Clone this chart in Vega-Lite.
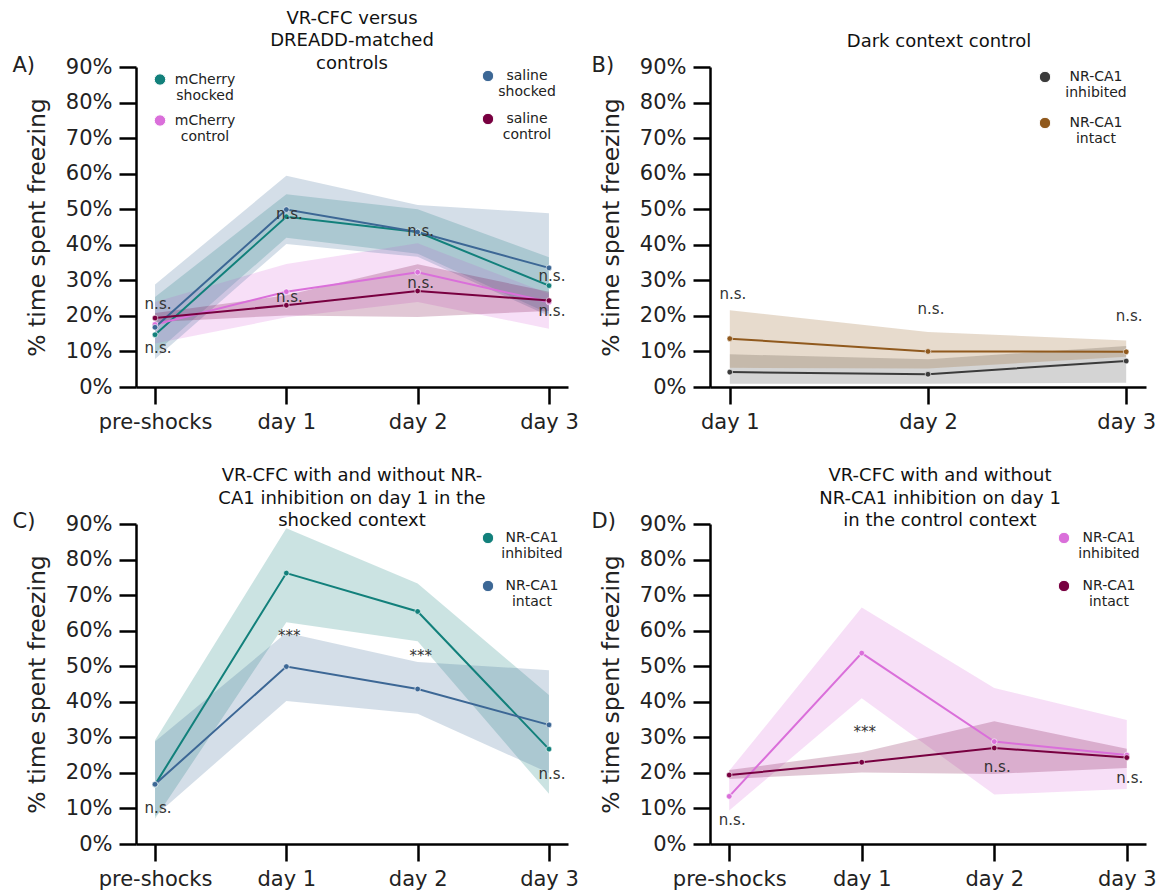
{
  "$schema": "https://vega.github.io/schema/vega-lite/v6.json",
  "background": "white",
  "padding": {"left": 12, "top": 9, "right": 5, "bottom": 5},
  "columns": 2,
  "spacing": {"row": 35, "column": 12},
  "resolve": {"scale": {"color": "independent", "fill": "independent", "stroke": "independent"}, "legend": {"color": "independent"}},
  "datasets": {
    "A": [
      {"t": "pre-shocks", "g": "mCherry shocked", "v": 14.7, "lo": 9.5, "hi": 25.3},
      {"t": "day 1", "g": "mCherry shocked", "v": 47.9, "lo": 42.0, "hi": 54.2},
      {"t": "day 2", "g": "mCherry shocked", "v": 43.6, "lo": 37.5, "hi": 50.0},
      {"t": "day 3", "g": "mCherry shocked", "v": 28.5, "lo": 20.6, "hi": 36.5},
      {"t": "pre-shocks", "g": "mCherry control", "v": 17.6, "lo": 12.2, "hi": 23.9},
      {"t": "day 1", "g": "mCherry control", "v": 26.8, "lo": 19.6, "hi": 34.6},
      {"t": "day 2", "g": "mCherry control", "v": 32.3, "lo": 23.9, "hi": 40.4},
      {"t": "day 3", "g": "mCherry control", "v": 23.9, "lo": 16.4, "hi": 26.2},
      {"t": "pre-shocks", "g": "saline shocked", "v": 16.8, "lo": 7.9, "hi": 28.8},
      {"t": "day 1", "g": "saline shocked", "v": 49.9, "lo": 40.2, "hi": 59.4},
      {"t": "day 2", "g": "saline shocked", "v": 43.6, "lo": 36.6, "hi": 51.2},
      {"t": "day 3", "g": "saline shocked", "v": 33.5, "lo": 20.0, "hi": 48.9},
      {"t": "pre-shocks", "g": "saline control", "v": 19.4, "lo": 18.3, "hi": 20.8},
      {"t": "day 1", "g": "saline control", "v": 23.0, "lo": 20.1, "hi": 25.8},
      {"t": "day 2", "g": "saline control", "v": 27.0, "lo": 19.7, "hi": 34.5},
      {"t": "day 3", "g": "saline control", "v": 24.3, "lo": 21.4, "hi": 26.8}
    ],
    "annA": [
      {"t": "pre-shocks", "v": 23.4, "label": "n.s."},
      {"t": "pre-shocks", "v": 11.1, "label": "n.s."},
      {"t": "day 1", "v": 48.6, "label": "n.s."},
      {"t": "day 1", "v": 25.4, "label": "n.s."},
      {"t": "day 2", "v": 43.8, "label": "n.s."},
      {"t": "day 2", "v": 29.2, "label": "n.s."},
      {"t": "day 3", "v": 31.3, "label": "n.s."},
      {"t": "day 3", "v": 21.3, "label": "n.s."}
    ],
    "B": [
      {"t": "day 1", "g": "NR-CA1 inhibited", "v": 4.2, "lo": 0.9, "hi": 9.2},
      {"t": "day 2", "g": "NR-CA1 inhibited", "v": 3.6, "lo": 0.9, "hi": 7.8},
      {"t": "day 3", "g": "NR-CA1 inhibited", "v": 7.3, "lo": 1.2, "hi": 11.5},
      {"t": "day 1", "g": "NR-CA1 intact", "v": 13.6, "lo": 5.4, "hi": 21.6},
      {"t": "day 2", "g": "NR-CA1 intact", "v": 10.0, "lo": 5.2, "hi": 15.5},
      {"t": "day 3", "g": "NR-CA1 intact", "v": 9.9, "lo": 8.5, "hi": 13.1}
    ],
    "annB": [
      {"t": "day 1", "v": 26.1, "label": "n.s."},
      {"t": "day 2", "v": 21.8, "label": "n.s."},
      {"t": "day 3", "v": 20.0, "label": "n.s."}
    ],
    "C": [
      {"t": "pre-shocks", "g": "NR-CA1 inhibited", "v": 16.7, "lo": 7.1, "hi": 29.2},
      {"t": "day 1", "g": "NR-CA1 inhibited", "v": 76.2, "lo": 62.4, "hi": 88.8},
      {"t": "day 2", "g": "NR-CA1 inhibited", "v": 65.4, "lo": 57.0, "hi": 73.3},
      {"t": "day 3", "g": "NR-CA1 inhibited", "v": 26.7, "lo": 14.1, "hi": 41.9},
      {"t": "pre-shocks", "g": "NR-CA1 intact", "v": 16.8, "lo": 7.9, "hi": 28.8},
      {"t": "day 1", "g": "NR-CA1 intact", "v": 49.9, "lo": 40.2, "hi": 59.4},
      {"t": "day 2", "g": "NR-CA1 intact", "v": 43.6, "lo": 36.6, "hi": 51.2},
      {"t": "day 3", "g": "NR-CA1 intact", "v": 33.5, "lo": 20.0, "hi": 48.9}
    ],
    "annC": [
      {"t": "pre-shocks", "v": 10.1, "label": "n.s."},
      {"t": "day 1", "v": 58.5, "label": "***"},
      {"t": "day 2", "v": 53.0, "label": "***"},
      {"t": "day 3", "v": 19.8, "label": "n.s."}
    ],
    "D": [
      {"t": "pre-shocks", "g": "NR-CA1 inhibited", "v": 13.4, "lo": 9.4, "hi": 20.6},
      {"t": "day 1", "g": "NR-CA1 inhibited", "v": 53.7, "lo": 41.0, "hi": 66.5},
      {"t": "day 2", "g": "NR-CA1 inhibited", "v": 28.8, "lo": 13.9, "hi": 43.9},
      {"t": "day 3", "g": "NR-CA1 inhibited", "v": 25.0, "lo": 15.5, "hi": 34.9},
      {"t": "pre-shocks", "g": "NR-CA1 intact", "v": 19.4, "lo": 18.3, "hi": 20.8},
      {"t": "day 1", "g": "NR-CA1 intact", "v": 23.0, "lo": 20.1, "hi": 25.8},
      {"t": "day 2", "g": "NR-CA1 intact", "v": 27.0, "lo": 19.7, "hi": 34.5},
      {"t": "day 3", "g": "NR-CA1 intact", "v": 24.3, "lo": 21.4, "hi": 26.8}
    ],
    "annD": [
      {"t": "pre-shocks", "v": 6.7, "label": "n.s."},
      {"t": "day 1", "v": 31.5, "label": "***"},
      {"t": "day 2", "v": 21.6, "label": "n.s."},
      {"t": "day 3", "v": 18.5, "label": "n.s."}
    ]
  },
  "concat": [
    {
      "width": 432, "height": 320,
      "title": {"text": ["VR-CFC versus", "DREADD-matched", "controls"], "offset": -19},
      "data": {"name": "A"},
      "layer": [
        {
          "mark": {"type": "area", "fillOpacity": 0.22, "strokeWidth": 0},
          "encoding": {
            "x": {"field": "t", "type": "ordinal", "scale": {"type": "point", "domain": ["pre-shocks", "day 1", "day 2", "day 3"], "padding": 0.145}, "axis": {"title": null, "labelAngle": 0}},
            "y": {"field": "lo", "type": "quantitative", "scale": {"domain": [0, 90], "nice": false}, "axis": {"values": [0, 10, 20, 30, 40, 50, 60, 70, 80, 90], "labelExpr": "datum.value + '%'", "title": "% time spent freezing"}},
            "y2": {"field": "hi"},
            "fill": {"field": "g", "type": "nominal", "scale": {"domain": ["mCherry shocked", "mCherry control", "saline shocked", "saline control"], "range": ["#12807b", "#da6fda", "#3c6795", "#780040"]}, "legend": null}
          }
        },
        {
          "mark": {"type": "line", "strokeWidth": 2},
          "encoding": {
            "x": {"field": "t", "type": "ordinal", "scale": {"type": "point", "domain": ["pre-shocks", "day 1", "day 2", "day 3"], "padding": 0.145}, "axis": null},
            "y": {"field": "v", "type": "quantitative", "scale": {"domain": [0, 90], "nice": false}, "axis": {"values": [0, 10, 20, 30, 40, 50, 60, 70, 80, 90], "labelExpr": "datum.value + '%'", "title": "% time spent freezing"}},
            "stroke": {"field": "g", "type": "nominal", "scale": {"domain": ["mCherry shocked", "mCherry control", "saline shocked", "saline control"], "range": ["#12807b", "#da6fda", "#3c6795", "#780040"]}, "legend": null}
          }
        },
        {
          "transform": [{"filter": {"field": "g", "oneOf": ["mCherry shocked", "mCherry control"]}}],
          "mark": {"type": "point", "filled": true, "size": 32, "opacity": 1, "stroke": "white", "strokeWidth": 0.6},
          "encoding": {
            "x": {"field": "t", "type": "ordinal", "scale": {"type": "point", "domain": ["pre-shocks", "day 1", "day 2", "day 3"], "padding": 0.145}, "axis": null},
            "y": {"field": "v", "type": "quantitative", "scale": {"domain": [0, 90], "nice": false}, "axis": {"values": [0, 10, 20, 30, 40, 50, 60, 70, 80, 90], "labelExpr": "datum.value + '%'", "title": "% time spent freezing"}},
            "color": {"field": "g", "type": "nominal", "scale": {"domain": ["mCherry shocked", "mCherry control"], "range": ["#12807b", "#da6fda"]},
              "legend": {"title": null, "orient": "none", "legendX": 17, "legendY": 5.5, "labelExpr": "split(datum.label, ' ')", "labelAlign": "center", "labelOffset": 38, "rowPadding": 10, "symbolStrokeColor": "white"}}
          }
        },
        {
          "transform": [{"filter": {"field": "g", "oneOf": ["saline shocked", "saline control"]}}],
          "mark": {"type": "point", "filled": true, "size": 32, "opacity": 1, "stroke": "white", "strokeWidth": 0.6},
          "encoding": {
            "x": {"field": "t", "type": "ordinal", "scale": {"type": "point", "domain": ["pre-shocks", "day 1", "day 2", "day 3"], "padding": 0.145}, "axis": null},
            "y": {"field": "v", "type": "quantitative", "scale": {"domain": [0, 90], "nice": false}, "axis": {"values": [0, 10, 20, 30, 40, 50, 60, 70, 80, 90], "labelExpr": "datum.value + '%'", "title": "% time spent freezing"}},
            "color": {"field": "g", "type": "nominal", "scale": {"domain": ["saline shocked", "saline control"], "range": ["#3c6795", "#780040"]},
              "legend": {"title": null, "orient": "none", "legendX": 345, "legendY": 2, "labelExpr": "split(datum.label, ' ')", "labelAlign": "center", "labelOffset": 32, "rowPadding": 12, "symbolStrokeColor": "white"}}
          }
        },
        {
          "data": {"name": "annA"},
          "mark": {"type": "text", "font": "DejaVu Sans", "fontSize": 15, "color": "#333", "baseline": "middle", "dx": 3},
          "encoding": {
            "x": {"field": "t", "type": "ordinal", "scale": {"type": "point", "domain": ["pre-shocks", "day 1", "day 2", "day 3"], "padding": 0.145},
              "axis": {"orient": "top", "title": "A)", "labels": false, "ticks": false, "domain": false, "titleX": -124, "titleY": 4, "titleAngle": 0, "titleAlign": "left", "titleBaseline": "alphabetic", "titleFontSize": 21}},
            "y": {"field": "v", "type": "quantitative", "scale": {"domain": [0, 90], "nice": false}, "axis": {"values": [0, 10, 20, 30, 40, 50, 60, 70, 80, 90], "labelExpr": "datum.value + '%'", "title": "% time spent freezing"}},
            "text": {"field": "label"}
          }
        }
      ],
      "resolve": {"scale": {"color": "independent"}, "axis": {"x": "independent"}}
    },
    {
      "width": 436, "height": 320,
      "title": {"text": "Dark context control", "offset": 3, "dx": 11},
      "data": {"name": "B"},
      "layer": [
        {
          "mark": {"type": "area", "fillOpacity": 0.22, "strokeWidth": 0},
          "encoding": {
            "x": {"field": "t", "type": "ordinal", "scale": {"type": "point", "domain": ["day 1", "day 2", "day 3"], "padding": 0.1}, "axis": {"title": null, "labelAngle": 0}},
            "y": {"field": "lo", "type": "quantitative", "scale": {"domain": [0, 90], "nice": false}, "axis": {"values": [0, 10, 20, 30, 40, 50, 60, 70, 80, 90], "labelExpr": "datum.value + '%'", "title": "% time spent freezing"}},
            "y2": {"field": "hi"},
            "fill": {"field": "g", "type": "nominal", "scale": {"domain": ["NR-CA1 inhibited", "NR-CA1 intact"], "range": ["#3b3b3b", "#90591d"]}, "legend": null}
          }
        },
        {
          "mark": {"type": "line", "strokeWidth": 2},
          "encoding": {
            "x": {"field": "t", "type": "ordinal", "scale": {"type": "point", "domain": ["day 1", "day 2", "day 3"], "padding": 0.1}, "axis": null},
            "y": {"field": "v", "type": "quantitative", "scale": {"domain": [0, 90], "nice": false}, "axis": {"values": [0, 10, 20, 30, 40, 50, 60, 70, 80, 90], "labelExpr": "datum.value + '%'", "title": "% time spent freezing"}},
            "stroke": {"field": "g", "type": "nominal", "scale": {"domain": ["NR-CA1 inhibited", "NR-CA1 intact"], "range": ["#3b3b3b", "#90591d"]}, "legend": null}
          }
        },
        {
          "mark": {"type": "point", "filled": true, "size": 32, "opacity": 1, "stroke": "white", "strokeWidth": 0.6},
          "encoding": {
            "x": {"field": "t", "type": "ordinal", "scale": {"type": "point", "domain": ["day 1", "day 2", "day 3"], "padding": 0.1}, "axis": null},
            "y": {"field": "v", "type": "quantitative", "scale": {"domain": [0, 90], "nice": false}, "axis": {"values": [0, 10, 20, 30, 40, 50, 60, 70, 80, 90], "labelExpr": "datum.value + '%'", "title": "% time spent freezing"}},
            "color": {"field": "g", "type": "nominal", "scale": {"domain": ["NR-CA1 inhibited", "NR-CA1 intact"], "range": ["#3b3b3b", "#90591d"]},
              "legend": {"title": null, "orient": "none", "legendX": 328, "legendY": 3, "labelExpr": "split(datum.label, ' ')", "labelAlign": "center", "labelOffset": 44, "rowPadding": 15, "symbolStrokeColor": "white"}}
          }
        },
        {
          "data": {"name": "annB"},
          "mark": {"type": "text", "font": "DejaVu Sans", "fontSize": 15, "color": "#333", "baseline": "middle", "dx": 3},
          "encoding": {
            "x": {"field": "t", "type": "ordinal", "scale": {"type": "point", "domain": ["day 1", "day 2", "day 3"], "padding": 0.1},
              "axis": {"orient": "top", "title": "B)", "labels": false, "ticks": false, "domain": false, "titleX": -119, "titleY": 4, "titleAngle": 0, "titleAlign": "left", "titleBaseline": "alphabetic", "titleFontSize": 21}},
            "y": {"field": "v", "type": "quantitative", "scale": {"domain": [0, 90], "nice": false}, "axis": {"values": [0, 10, 20, 30, 40, 50, 60, 70, 80, 90], "labelExpr": "datum.value + '%'", "title": "% time spent freezing"}},
            "text": {"field": "label"}
          }
        }
      ],
      "resolve": {"scale": {"color": "independent"}, "axis": {"x": "independent"}}
    },
    {
      "width": 432, "height": 320,
      "title": {"text": ["VR-CFC with and without NR-", "CA1 inhibition on day 1 in the", "shocked context"], "offset": -20.5},
      "data": {"name": "C"},
      "layer": [
        {
          "mark": {"type": "area", "fillOpacity": 0.22, "strokeWidth": 0},
          "encoding": {
            "x": {"field": "t", "type": "ordinal", "scale": {"type": "point", "domain": ["pre-shocks", "day 1", "day 2", "day 3"], "padding": 0.145}, "axis": {"title": null, "labelAngle": 0}},
            "y": {"field": "lo", "type": "quantitative", "scale": {"domain": [0, 90], "nice": false}, "axis": {"values": [0, 10, 20, 30, 40, 50, 60, 70, 80, 90], "labelExpr": "datum.value + '%'", "title": "% time spent freezing"}},
            "y2": {"field": "hi"},
            "fill": {"field": "g", "type": "nominal", "scale": {"domain": ["NR-CA1 inhibited", "NR-CA1 intact"], "range": ["#12807b", "#3c6795"]}, "legend": null}
          }
        },
        {
          "mark": {"type": "line", "strokeWidth": 2},
          "encoding": {
            "x": {"field": "t", "type": "ordinal", "scale": {"type": "point", "domain": ["pre-shocks", "day 1", "day 2", "day 3"], "padding": 0.145}, "axis": null},
            "y": {"field": "v", "type": "quantitative", "scale": {"domain": [0, 90], "nice": false}, "axis": {"values": [0, 10, 20, 30, 40, 50, 60, 70, 80, 90], "labelExpr": "datum.value + '%'", "title": "% time spent freezing"}},
            "stroke": {"field": "g", "type": "nominal", "scale": {"domain": ["NR-CA1 inhibited", "NR-CA1 intact"], "range": ["#12807b", "#3c6795"]}, "legend": null}
          }
        },
        {
          "mark": {"type": "point", "filled": true, "size": 32, "opacity": 1, "stroke": "white", "strokeWidth": 0.6},
          "encoding": {
            "x": {"field": "t", "type": "ordinal", "scale": {"type": "point", "domain": ["pre-shocks", "day 1", "day 2", "day 3"], "padding": 0.145}, "axis": null},
            "y": {"field": "v", "type": "quantitative", "scale": {"domain": [0, 90], "nice": false}, "axis": {"values": [0, 10, 20, 30, 40, 50, 60, 70, 80, 90], "labelExpr": "datum.value + '%'", "title": "% time spent freezing"}},
            "color": {"field": "g", "type": "nominal", "scale": {"domain": ["NR-CA1 inhibited", "NR-CA1 intact"], "range": ["#12807b", "#3c6795"]},
              "legend": {"title": null, "orient": "none", "legendX": 345, "legendY": 7, "labelExpr": "split(datum.label, ' ')", "labelAlign": "center", "labelOffset": 37, "rowPadding": 17, "symbolStrokeColor": "white"}}
          }
        },
        {
          "data": {"name": "annC"},
          "mark": {"type": "text", "font": "DejaVu Sans", "fontSize": 15, "color": "#333", "baseline": "middle", "dx": 3},
          "encoding": {
            "x": {"field": "t", "type": "ordinal", "scale": {"type": "point", "domain": ["pre-shocks", "day 1", "day 2", "day 3"], "padding": 0.145},
              "axis": {"orient": "top", "title": "C)", "labels": false, "ticks": false, "domain": false, "titleX": -124, "titleY": 3, "titleAngle": 0, "titleAlign": "left", "titleBaseline": "alphabetic", "titleFontSize": 21}},
            "y": {"field": "v", "type": "quantitative", "scale": {"domain": [0, 90], "nice": false}, "axis": {"values": [0, 10, 20, 30, 40, 50, 60, 70, 80, 90], "labelExpr": "datum.value + '%'", "title": "% time spent freezing"}},
            "text": {"field": "label"}
          }
        }
      ],
      "resolve": {"scale": {"color": "independent"}, "axis": {"x": "independent"}}
    },
    {
      "width": 436, "height": 320,
      "title": {"text": ["VR-CFC with and without", "NR-CA1 inhibition on day 1", "in the control context"], "offset": -20.5, "dx": 12},
      "data": {"name": "D"},
      "layer": [
        {
          "mark": {"type": "area", "fillOpacity": 0.22, "strokeWidth": 0},
          "encoding": {
            "x": {"field": "t", "type": "ordinal", "scale": {"type": "point", "domain": ["pre-shocks", "day 1", "day 2", "day 3"], "padding": 0.145}, "axis": {"title": null, "labelAngle": 0}},
            "y": {"field": "lo", "type": "quantitative", "scale": {"domain": [0, 90], "nice": false}, "axis": {"values": [0, 10, 20, 30, 40, 50, 60, 70, 80, 90], "labelExpr": "datum.value + '%'", "title": "% time spent freezing"}},
            "y2": {"field": "hi"},
            "fill": {"field": "g", "type": "nominal", "scale": {"domain": ["NR-CA1 inhibited", "NR-CA1 intact"], "range": ["#da6fda", "#780040"]}, "legend": null}
          }
        },
        {
          "mark": {"type": "line", "strokeWidth": 2},
          "encoding": {
            "x": {"field": "t", "type": "ordinal", "scale": {"type": "point", "domain": ["pre-shocks", "day 1", "day 2", "day 3"], "padding": 0.145}, "axis": null},
            "y": {"field": "v", "type": "quantitative", "scale": {"domain": [0, 90], "nice": false}, "axis": {"values": [0, 10, 20, 30, 40, 50, 60, 70, 80, 90], "labelExpr": "datum.value + '%'", "title": "% time spent freezing"}},
            "stroke": {"field": "g", "type": "nominal", "scale": {"domain": ["NR-CA1 inhibited", "NR-CA1 intact"], "range": ["#da6fda", "#780040"]}, "legend": null}
          }
        },
        {
          "mark": {"type": "point", "filled": true, "size": 32, "opacity": 1, "stroke": "white", "strokeWidth": 0.6},
          "encoding": {
            "x": {"field": "t", "type": "ordinal", "scale": {"type": "point", "domain": ["pre-shocks", "day 1", "day 2", "day 3"], "padding": 0.145}, "axis": null},
            "y": {"field": "v", "type": "quantitative", "scale": {"domain": [0, 90], "nice": false}, "axis": {"values": [0, 10, 20, 30, 40, 50, 60, 70, 80, 90], "labelExpr": "datum.value + '%'", "title": "% time spent freezing"}},
            "color": {"field": "g", "type": "nominal", "scale": {"domain": ["NR-CA1 inhibited", "NR-CA1 intact"], "range": ["#da6fda", "#780040"]},
              "legend": {"title": null, "orient": "none", "legendX": 347, "legendY": 7, "labelExpr": "split(datum.label, ' ')", "labelAlign": "center", "labelOffset": 38, "rowPadding": 17, "symbolStrokeColor": "white"}}
          }
        },
        {
          "data": {"name": "annD"},
          "mark": {"type": "text", "font": "DejaVu Sans", "fontSize": 15, "color": "#333", "baseline": "middle", "dx": 3},
          "encoding": {
            "x": {"field": "t", "type": "ordinal", "scale": {"type": "point", "domain": ["pre-shocks", "day 1", "day 2", "day 3"], "padding": 0.145},
              "axis": {"orient": "top", "title": "D)", "labels": false, "ticks": false, "domain": false, "titleX": -119, "titleY": 3, "titleAngle": 0, "titleAlign": "left", "titleBaseline": "alphabetic", "titleFontSize": 21}},
            "y": {"field": "v", "type": "quantitative", "scale": {"domain": [0, 90], "nice": false}, "axis": {"values": [0, 10, 20, 30, 40, 50, 60, 70, 80, 90], "labelExpr": "datum.value + '%'", "title": "% time spent freezing"}},
            "text": {"field": "label"}
          }
        }
      ],
      "resolve": {"scale": {"color": "independent"}, "axis": {"x": "independent"}}
    }
  ],
  "config": {
    "view": {"stroke": null},
    "font": "DejaVu Sans",
    "title": {"font": "DejaVu Sans", "fontSize": 18, "fontWeight": "normal", "color": "#111", "lineHeight": 22.7, "anchor": "middle", "frame": "group", "baseline": "bottom"},
    "axis": {"grid": false, "domainColor": "#000", "domainWidth": 2.5, "tickColor": "#000", "tickWidth": 2.5, "tickSize": 17, "labelFont": "DejaVu Sans", "labelFontSize": 21, "labelColor": "#222", "labelPadding": 7, "titleFont": "DejaVu Sans", "titleFontSize": 23.5, "titleFontWeight": "normal", "titleColor": "#222"},
    "axisY": {"titlePadding": 16},
    "legend": {"labelFont": "DejaVu Sans", "labelFontSize": 14, "labelColor": "#222", "symbolType": "circle", "symbolSize": 130, "symbolStrokeWidth": 1, "padding": 0, "symbolOpacity": 1}
  }
}
